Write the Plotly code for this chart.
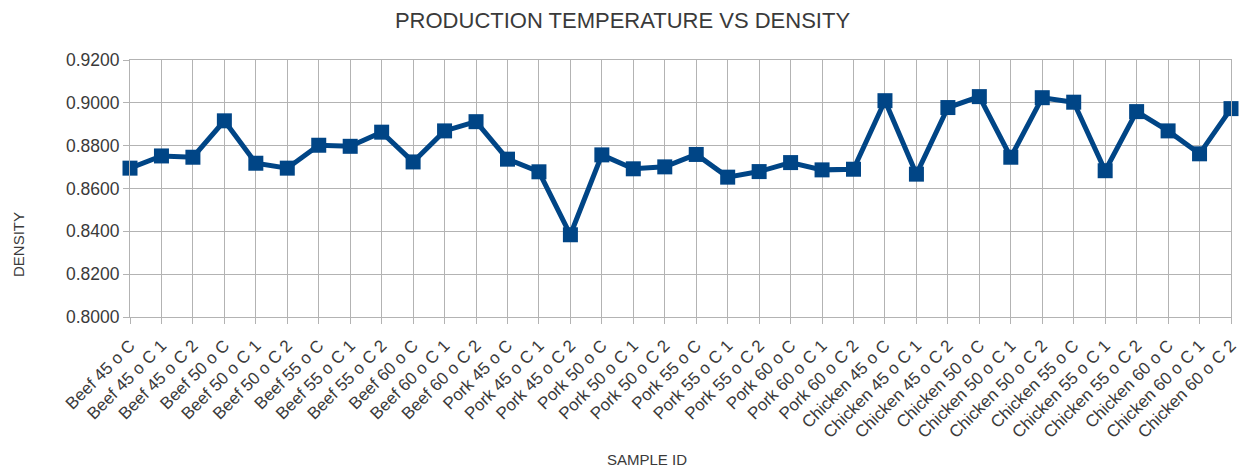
import plotly.graph_objects as go

samples = [
    "Beef 45 o C", "Beef 45 o C 1", "Beef 45 o C 2",
    "Beef 50 o C", "Beef 50 o C 1", "Beef 50 o C 2",
    "Beef 55 o C", "Beef 55 o C 1", "Beef 55 o C 2",
    "Beef 60 o C", "Beef 60 o C 1", "Beef 60 o C 2",
    "Pork 45 o C", "Pork 45 o C 1", "Pork 45 o C 2",
    "Pork 50 o C", "Pork 50 o C 1", "Pork 50 o C 2",
    "Pork 55 o C", "Pork 55 o C 1", "Pork 55 o C 2",
    "Pork 60 o C", "Pork 60 o C 1", "Pork 60 o C 2",
    "Chicken 45 o C", "Chicken 45 o C 1", "Chicken 45 o C 2",
    "Chicken 50 o C", "Chicken 50 o C 1", "Chicken 50 o C 2",
    "Chicken 55 o C", "Chicken 55 o C 1", "Chicken 55 o C 2",
    "Chicken 60 o C", "Chicken 60 o C 1", "Chicken 60 o C 2",
]
density = [
    0.8695, 0.8752, 0.8746, 0.8916, 0.8718, 0.8695,
    0.8802, 0.8797, 0.8863, 0.8724, 0.8869, 0.8912,
    0.8737, 0.8678, 0.8384, 0.8757, 0.8692, 0.8701,
    0.8759, 0.8653, 0.8679, 0.8721, 0.8687, 0.8690,
    0.9010, 0.8667, 0.8978, 0.9029, 0.8746, 0.9024,
    0.9003, 0.8683, 0.8959, 0.8869, 0.8762, 0.8973,
]
y_ticks = [0.80, 0.82, 0.84, 0.86, 0.88, 0.90, 0.92]

FONT = "Liberation Sans, Arial, sans-serif"
BLUE = "#004586"
GRID = "#b3b3b3"
TXT = "#3a3a3a"

fig = go.Figure()
fig.add_trace(go.Scatter(
    x=samples, y=density, mode="lines+markers",
    line=dict(color=BLUE, width=5),
    marker=dict(symbol="square", size=15, color=BLUE),
    cliponaxis=False,
    showlegend=False,
))

fig.update_layout(
    width=1242, height=470,
    margin=dict(l=130, r=11, t=60, b=153, autoexpand=False),
    paper_bgcolor="white", plot_bgcolor="white",
    font=dict(family=FONT, color=TXT),
    title=dict(text="PRODUCTION TEMPERATURE VS DENSITY", x=622.5 / 1242, xanchor="center",
               xref="container", y=1 - 20 / 470, yanchor="middle", yref="container",
               font=dict(size=22, color=TXT)),
    annotations=[
        dict(text="SAMPLE ID", xref="paper", yref="paper",
             x=(647 - 130) / 1101, y=(317 - 459) / 257,
             xanchor="center", yanchor="middle", showarrow=False,
             font=dict(size=15, color=TXT)),
        dict(text="DENSITY", xref="paper", yref="paper",
             x=(18 - 130) / 1101, y=(317 - 245) / 257, textangle=-90,
             xanchor="center", yanchor="middle", showarrow=False,
             font=dict(size=15, color=TXT)),
    ],
)
fig.update_xaxes(
    type="category", range=[0, len(samples) - 1], automargin=False,
    tickangle=-45, tickfont=dict(size=17, color=TXT), ticklabelstandoff=5,
    showgrid=True, gridcolor=GRID, gridwidth=1,
    ticks="outside", ticklen=6, tickcolor=GRID,
    showline=True, linecolor=GRID, mirror=True,
    zeroline=False,
)
fig.update_yaxes(
    range=[0.80, 0.92], tickvals=y_ticks, tickformat=".4f", automargin=False,
    tickfont=dict(size=17.5, color=TXT),
    showgrid=True, gridcolor=GRID, gridwidth=1,
    ticks="outside", ticklen=6, tickcolor=GRID,
    showline=True, linecolor=GRID, mirror=True,
    zeroline=False,
)

fig.write_html(
    "out.html",
    config={"displayModeBar": False},
    post_script="document.body.style.margin='0';document.body.style.overflow='hidden';",
)
